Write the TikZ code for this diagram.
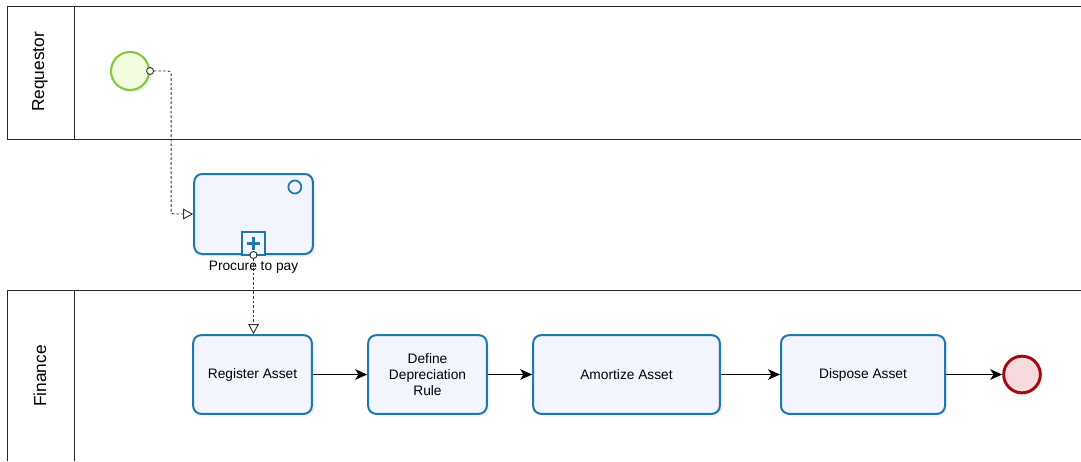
\documentclass[tikz,border=0pt]{standalone}
\usepackage{fontspec}
\setmainfont{Liberation Sans}
\usetikzlibrary{arrows.meta,positioning,shadows}
\definecolor{taskline}{RGB}{30,120,168}
\definecolor{taskfill}{RGB}{242,245,253}
\definecolor{startline}{RGB}{140,198,63}
\definecolor{startfill}{RGB}{244,252,224}
\definecolor{endline}{RGB}{160,12,12}
\definecolor{endfill}{RGB}{247,218,221}

\begin{document}
\begin{tikzpicture}[
x=0.75pt,y=-0.75pt,
lane/.style={draw=black!85,line width=0.75pt},
lanelab/.style={rotate=90,font=\fontsize{13}{15}\selectfont},
task/.style={draw=taskline,fill=taskfill,line width=1.5pt,rounded corners=6pt,align=center,
  minimum height=59pt,inner sep=2pt,font=\fontsize{10.3}{12}\selectfont,
  drop shadow={opacity=0.12,shadow xshift=2pt,shadow yshift=-2pt}},
startev/.style={circle,draw=startline,fill=startfill,line width=1.6pt,minimum size=28.5pt,
  drop shadow={opacity=0.12,shadow xshift=2pt,shadow yshift=-2pt}},
endev/.style={circle,draw=endline,fill=endfill,line width=2.2pt,minimum size=27.5pt,
  drop shadow={opacity=0.12,shadow xshift=2pt,shadow yshift=-2pt}},
flow/.style={-{Stealth[length=9pt,width=8pt,inset=2.5pt]},line width=0.8pt},
msg/.style={{Circle[open,length=6pt,fill=white]}-{Triangle[open,length=7.5pt,width=8pt,fill=white]},
  black!80,line width=0.7pt,dash pattern=on 2pt off 1.5pt,rounded corners=2pt}
]
\useasboundingbox (0,0) rectangle (1081,461);

% lanes
\draw[lane] (1081,6) -- (7,6) -- (7,139) -- (1081,139);
\draw[lane] (74,6) -- (74,139);
\draw[lane] (1081,290) -- (7,290) -- (7,461);
\draw[lane] (74,290) -- (74,461);
\node[lanelab] (req) at (40,72) {Requestor};
\node[lanelab] (fin) at (40,376) {Finance};

% events and tasks
\node[startev] (se) at (130,71) {};
\node[task,minimum width=89pt,minimum height=60pt] (sub) at (253.5,214) {};
\node[font=\fontsize{10.3}{12}\selectfont,below=1pt of sub] (sublab) {Procure to pay};
\node[task,minimum width=89pt] (reg) at (252.5,374.5) {Register Asset};
\node[task,minimum width=89pt] (def) at (427.5,374.5) {Define\\Depreciation\\Rule};
\node[task,minimum width=140pt] (amo) at (626.5,374.5) {Amortize Asset};
\node[task,minimum width=123pt] (dis) at (863,374.5) {Dispose Asset};
\node[endev] (ee) at (1022,374.5) {};

% sub-process markers
\draw[taskline,line width=1.3pt] (sub.north east) ++(-19,14) circle[radius=6.5];
\draw[taskline,line width=1.3pt,fill=taskfill] (sub.south) ++(-11.5,0) rectangle ++(23,-23);
\draw[taskline,line width=2.2pt] (sub.south) ++(0,-18) -- ++(0,13)
  (sub.south) ++(-6.5,-11.5) -- ++(13,0);

% connectors
\draw[msg,shorten <=-3pt] (se.east) -- ++(21,0) |- (sub.west);
\draw[msg,shorten <=-3pt] (sub.south) -- (sub.south |- reg.north);
\draw[flow] (reg) -- (def);
\draw[flow] (def) -- (amo);
\draw[flow] (amo) -- (dis);
\draw[flow] (dis) -- (ee);
\end{tikzpicture}
\end{document}
